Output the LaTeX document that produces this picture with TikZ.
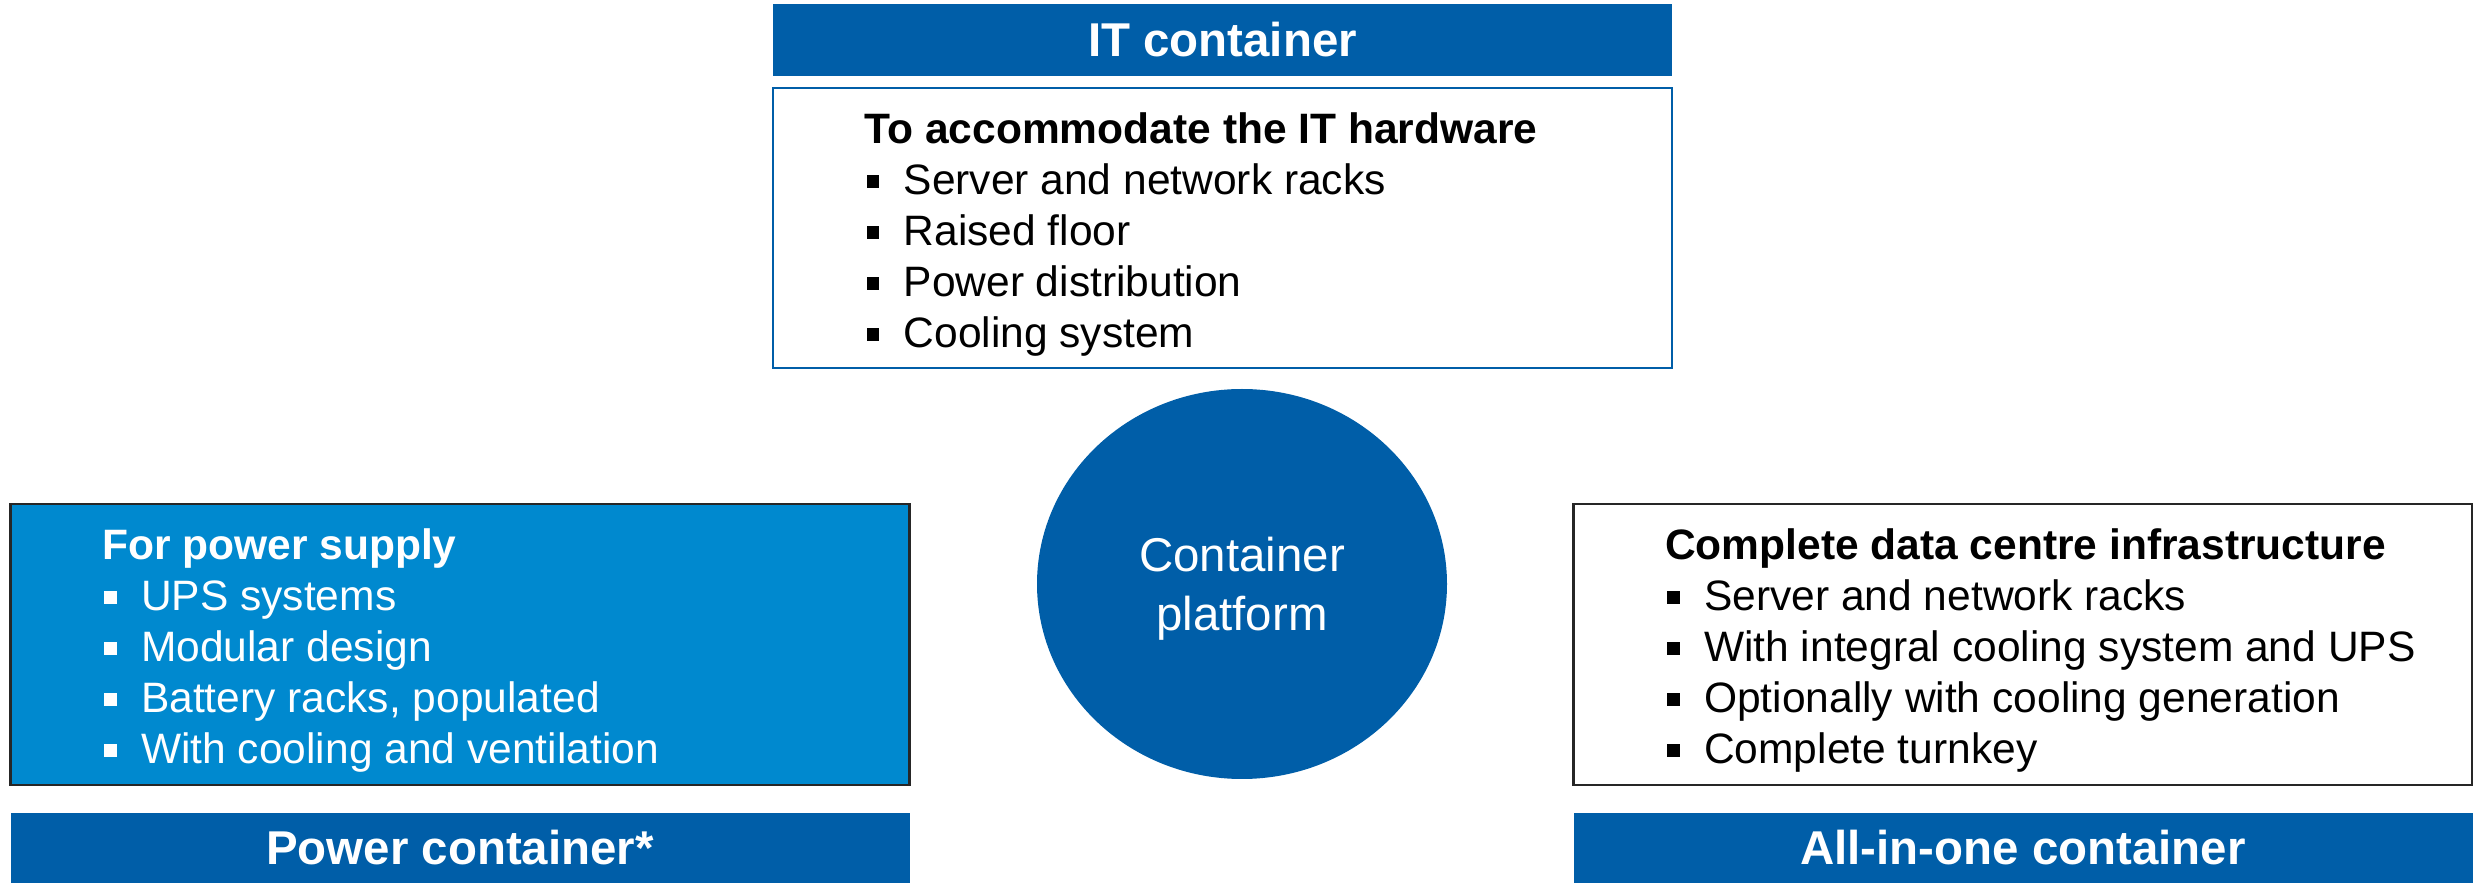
\documentclass[tikz,border=0pt]{standalone}
\usepackage{fontspec}
\setmainfont{Liberation Sans}
\usetikzlibrary{positioning,shapes.geometric,calc}
\definecolor{darkblue}{RGB}{0,94,168}
\definecolor{lightblue}{RGB}{0,137,207}
\newcommand{\sqbullet}{\makebox[0.39cm][l]{\hspace{0.02cm}\rule[0.07cm]{0.125cm}{0.125cm}}}
\tikzstyle{header}=[rectangle,fill=darkblue,text=white,font=\fontsize{13.5}{15}\selectfont\bfseries,
minimum width=8.99cm,minimum height=0.70cm,inner sep=0pt]
\tikzstyle{infobox}=[rectangle,draw=black!85,line width=0.6pt,minimum width=8.99cm,
minimum height=2.81cm,inner sep=0pt]
\tikzstyle{titletext}=[anchor=base west,inner sep=0pt,font=\fontsize{12.1}{14}\selectfont\bfseries]
\tikzstyle{itemtext}=[anchor=base west,inner sep=0pt,font=\fontsize{12.1}{14}\selectfont]
\tikzstyle{platform}=[ellipse,fill=darkblue,minimum width=4.1cm,minimum height=3.9cm,inner sep=0pt]
\tikzstyle{platformtext}=[text=white,inner sep=0pt,align=center,font=\fontsize{13.5}{16.8}\selectfont]

\begin{document}
\begin{tikzpicture}
            \useasboundingbox (0,0) rectangle (24.73,8.83);

            % IT PART

            \node[header,minimum height=0.72cm] (ith) at (12.225,8.43) {IT container};
            \node[infobox,draw=darkblue,minimum height=2.80cm] (itb) at (12.225,6.55) {};
            \node[titletext] (itt) at ($(itb.north west)+(0.92,-0.57)$) {To accommodate the IT hardware};
            \foreach \s [count=\i] in {Server and network racks,Raised floor,Power distribution,Cooling system}
                \node[itemtext] (it\i) at ($(itt.base west)+(0,-0.51*\i)$) {\sqbullet\s};

            % POWER PART

            \node[infobox,fill=lightblue] (pwb) at (4.60,2.385) {};
            \node[header] (pwh) at (4.60,0.35) {Power container*};
            \node[titletext,text=white] (pwt) at ($(pwb.north west)+(0.92,-0.57)$) {For power supply};
            \foreach \s [count=\i] in {UPS systems,Modular design,{Battery racks, populated},With cooling and ventilation}
                \node[itemtext,text=white] (pw\i) at ($(pwt.base west)+(0,-0.51*\i)$) {\sqbullet\s};

            % ALL-IN-ONE PART

            \node[infobox] (alb) at (20.23,2.385) {};
            \node[header] (alh) at (20.23,0.35) {All-in-one container};
            \node[titletext] (alt) at ($(alb.north west)+(0.92,-0.57)$) {Complete data centre infrastructure};
            \foreach \s [count=\i] in {Server and network racks,With integral cooling system and UPS,Optionally with cooling generation,Complete turnkey}
                \node[itemtext] (al\i) at ($(alt.base west)+(0,-0.51*\i)$) {\sqbullet\s};

            % PLATFORM

            \node[platform] (cp) at (12.42,2.99) {};
            \node[platformtext] (cpt) at ($(cp)+(0,-0.05)$) {Container\\platform};

\end{tikzpicture}
\end{document}
